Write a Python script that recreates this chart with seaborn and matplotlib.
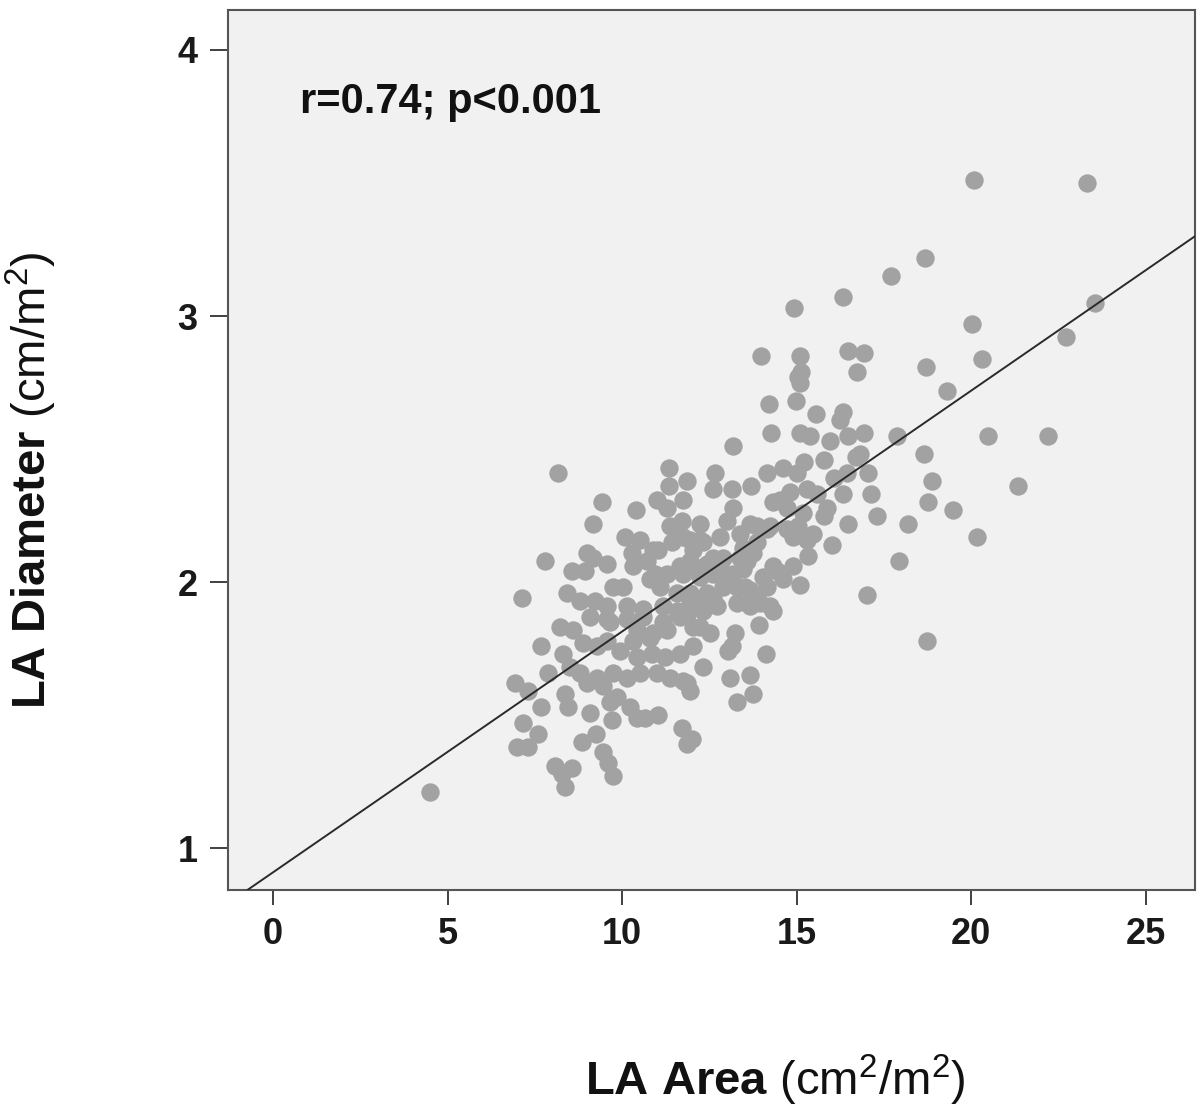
import numpy as np
import pandas as pd
import matplotlib
matplotlib.use('Agg')
import matplotlib.pyplot as plt
import seaborn as sns

# valores (LA Area cm2/m2, LA Diameter cm/m2)
la_area = [
    4.50, 8.17, 7.13, 7.79, 6.93, 7.31, 7.68, 7.16, 7.59, 6.99, 7.31, 8.08, 8.57, 8.28, 8.37,
    9.46, 9.60, 9.74, 8.85, 9.26, 9.08, 8.37, 8.45, 7.88, 7.68, 8.31, 8.51, 8.80, 9.00, 9.28,
    9.74, 9.86, 9.66, 10.23, 10.43, 10.66, 11.03, 9.71, 11.72, 11.86, 12.01,
    8.22, 8.60, 9.08, 8.88, 9.28, 9.66, 10.14, 10.60, 9.17, 9.43, 9.00, 9.17, 8.57, 8.94,
    9.57, 10.40, 11.00, 11.29, 11.35, 11.35, 11.86, 11.75, 11.72, 11.38, 10.09, 10.52, 10.29,
    11.03, 11.43, 11.75, 10.32, 10.72, 10.80, 11.29, 11.66, 9.74, 10.03, 11.09, 11.58, 9.57,
    10.14, 10.60, 11.17, 11.58,
    10.89, 11.95, 10.95, 10.43, 10.89, 11.17, 11.66, 11.95, 12.03, 12.03, 12.03, 9.57,
    9.57, 9.94, 10.32, 10.80, 11.29, 12.23, 10.43, 10.86, 11.23, 11.66, 12.03, 12.52, 10.14,
    10.52, 11.00, 11.38, 11.86, 12.32, 9.46, 11.95, 8.80, 9.23, 8.42,
    15.10, 14.21, 14.99, 15.56, 16.33, 16.25, 14.27, 15.10, 15.39, 15.96, 16.48, 16.93, 13.18,
    16.70, 15.79, 15.21, 14.61, 14.15, 15.01, 16.45, 16.07, 17.05, 12.66, 12.61, 13.15, 13.70,
    14.81, 15.30, 15.59, 16.33, 17.13, 13.18, 14.53, 14.73, 15.19, 15.87, 15.79, 17.31, 13.01,
    12.23, 16.48, 14.24, 14.73, 15.04, 15.47, 13.67, 13.87, 13.38, 12.81, 14.90, 15.30, 16.02,
    15.33, 12.32, 13.75, 13.58, 12.61, 12.81, 14.90, 14.44, 14.04, 13.18, 15.10, 14.61, 17.02,
    13.52, 13.75, 13.95, 14.33, 12.61, 12.23, 13.10, 12.89,
    13.93, 13.24, 13.15, 13.04, 14.13, 13.10, 13.67, 13.75, 13.30, 11.75,
    14.15, 14.33, 12.23, 13.47, 13.87, 11.95, 12.43, 12.89, 13.38, 11.75, 12.23, 12.61, 13.47,
    14.33, 14.15, 11.95, 12.43, 13.30, 13.67, 12.32, 12.72, 13.30, 13.67, 14.24, 11.86,
    16.33, 14.93, 13.98, 15.10, 16.48, 16.93, 15.13, 15.04, 16.73,
    20.09, 23.32, 18.68, 17.71, 23.55, 20.03, 20.32, 22.72, 18.71, 19.31, 17.88, 20.49, 22.21,
    16.82, 18.65, 18.88, 21.35, 18.77, 19.48, 18.19, 20.17, 17.94, 18.74,
]
la_diameter = [
    1.21, 2.41, 1.94, 2.08, 1.62, 1.59, 1.53, 1.47, 1.43, 1.38, 1.38, 1.31, 1.30, 1.28, 1.23,
    1.36, 1.32, 1.27, 1.40, 1.43, 1.51, 1.58, 1.53, 1.66, 1.76, 1.73, 1.68, 1.66, 1.62, 1.64,
    1.66, 1.57, 1.55, 1.53, 1.49, 1.49, 1.50, 1.48, 1.45, 1.39, 1.41,
    1.83, 1.82, 1.87, 1.77, 1.76, 1.85, 1.86, 1.87, 2.22, 2.30, 2.11, 2.09, 2.04, 2.04,
    2.07, 2.27, 2.31, 2.28, 2.43, 2.36, 2.38, 2.31, 2.23, 2.21, 2.17, 2.16, 2.11,
    2.12, 2.15, 2.17, 2.06, 2.08, 2.01, 2.03, 2.06, 1.98, 1.98, 1.98, 1.96, 1.91,
    1.91, 1.90, 1.91, 1.89,
    2.12, 2.16, 2.03, 1.82, 1.81, 1.85, 1.87, 1.92, 1.83, 2.06, 2.12, 1.86,
    1.78, 1.74, 1.78, 1.79, 1.82, 1.83, 1.72, 1.73, 1.72, 1.73, 1.76, 1.81, 1.64,
    1.66, 1.66, 1.64, 1.62, 1.68, 1.61, 1.59, 1.93, 1.93, 1.96,
    2.75, 2.67, 2.68, 2.63, 2.64, 2.61, 2.56, 2.56, 2.55, 2.53, 2.55, 2.56, 2.51,
    2.47, 2.46, 2.45, 2.43, 2.41, 2.41, 2.41, 2.39, 2.41, 2.41, 2.35, 2.35, 2.36,
    2.34, 2.35, 2.33, 2.33, 2.33, 2.28, 2.31, 2.28, 2.26, 2.28, 2.25, 2.25, 2.23,
    2.22, 2.22, 2.21, 2.20, 2.21, 2.18, 2.22, 2.21, 2.18, 2.17, 2.17, 2.16, 2.14,
    2.10, 2.15, 2.11, 2.08, 2.09, 2.06, 2.06, 2.04, 2.02, 2.03, 1.99, 2.01, 1.95,
    1.98, 1.94, 1.92, 1.89, 1.94, 1.93, 2.01, 1.98,
    1.84, 1.81, 1.76, 1.74, 1.73, 1.64, 1.65, 1.58, 1.55, 1.63,
    2.20, 2.30, 2.16, 2.13, 2.15, 2.08, 2.07, 2.09, 2.09, 2.03, 2.02, 2.03, 2.05,
    2.06, 1.98, 1.96, 1.96, 1.98, 1.97, 1.89, 1.91, 1.92, 1.91, 1.91, 1.88,
    3.07, 3.03, 2.85, 2.85, 2.87, 2.86, 2.79, 2.77, 2.79,
    3.51, 3.50, 3.22, 3.15, 3.05, 2.97, 2.84, 2.92, 2.81, 2.72, 2.55, 2.55, 2.55,
    2.48, 2.48, 2.38, 2.36, 2.30, 2.27, 2.22, 2.17, 2.08, 1.78,
]
x_ticks = [0, 5, 10, 15, 20, 25]
y_ticks = [1, 2, 3, 4]
anotacao = 'r=0.74; p<0.001'

df = pd.DataFrame({'LA_Area': la_area, 'LA_Diameter': la_diameter})

sns.set_theme(style='white')
plt.rcParams['font.family'] = ['Liberation Sans', 'DejaVu Sans']
plt.rcParams['mathtext.fontset'] = 'custom'
plt.rcParams['mathtext.rm'] = 'Liberation Sans'
plt.rcParams['mathtext.bf'] = 'Liberation Sans:bold'

fig = plt.figure(figsize=(12, 11.17), dpi=100)
ax = fig.add_axes([0.19, 0.203, 0.806, 0.788])
ax.set_facecolor('#f1f1f1')

ax.set_xlim(-1.29, 26.42)
ax.set_ylim(0.842, 4.15)

sns.regplot(data=df, x='LA_Area', y='LA_Diameter', ax=ax, ci=None, truncate=False,
            scatter_kws={'s': 175, 'color': '#a2a2a2', 'alpha': 1, 'linewidths': 0},
            line_kws={'color': '#2a2a2a', 'linewidth': 1.4})
ax.lines[0].set_zorder(3)

ax.set_xticks(x_ticks)
ax.set_yticks(y_ticks)
ax.tick_params(axis='x', direction='out', length=11, width=1.4, color='#404040', pad=8,
               bottom=True, labelsize=26)
ax.tick_params(axis='y', direction='out', length=13, width=1.4, color='#404040', pad=9,
               left=True, labelsize=26)
for lab in ax.get_xticklabels() + ax.get_yticklabels():
    lab.set_fontweight('bold')
    lab.set_color('#1a1a1a')

for sp in ax.spines.values():
    sp.set_color('#555555')
    sp.set_linewidth(1.5)

ax.set_xlabel('')
ax.set_ylabel('')
fig.text(0.646, 0.033, r'$\bf{LA}$ $\bf{Area}$ (cm$^2$/m$^2$)', ha='center', va='center',
         fontsize=34, color='#111111')
fig.text(0.026, 0.57, r'$\bf{LA}$ $\bf{Diameter}$ (cm/m$^2$)', ha='center', va='center',
         rotation=90, fontsize=34, color='#111111')

ax.text(0.0745, 0.918, anotacao, transform=ax.transAxes, ha='left', va='top',
        fontsize=30, fontweight='bold', color='#111111')

fig.savefig('out.png', dpi=100, facecolor='white')
